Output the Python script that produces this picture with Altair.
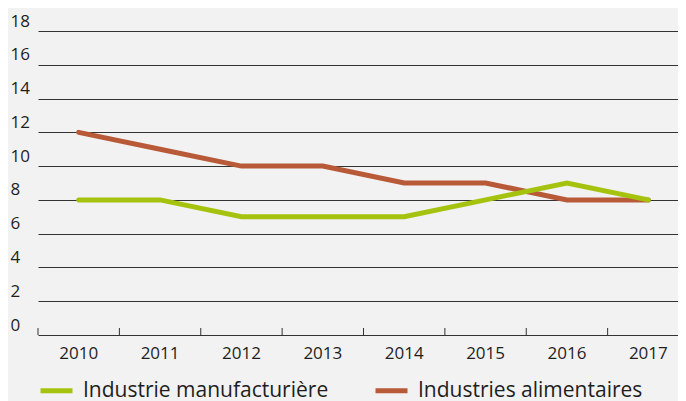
import altair as alt
import pandas as pd

years = ["2010", "2011", "2012", "2013", "2014", "2015", "2016", "2017"]
manuf = [8, 8, 7, 7, 7, 8, 9, 8]
alim = [12, 11, 10, 10, 9, 9, 8, 8]
series_names = ["Industrie manufacturière", "Industries alimentaires"]
series_colors = ["#A5C30E", "#B85A38"]
y_ticks = [0, 2, 4, 6, 8, 10, 12, 14, 16, 18]

df = pd.DataFrame(
    [{"year": y, "value": v, "serie": series_names[0]} for y, v in zip(years, manuf)]
    + [{"year": y, "value": v, "serie": series_names[1]} for y, v in zip(years, alim)]
)
ticks_df = pd.DataFrame({"year": years})

W, H = 668, 304
FONT = "Open Sans"

xscale = alt.Scale(domain=years, paddingInner=0, paddingOuter=0, range=[28, 679])
yscale = alt.Scale(domain=[0, 18], nice=False)
color = alt.Color(
    "serie:N",
    scale=alt.Scale(domain=series_names, range=series_colors),
    legend=alt.Legend(
        title=None, orient="none", legendX=28, legendY=341, direction="horizontal",
        symbolType="stroke", symbolSize=1024, symbolStrokeWidth=5,
        labelFontSize=21, labelFont=FONT, labelColor="#1e1e1e", labelLimit=0,
        columnPadding=36, labelOffset=8, padding=0,
    ),
)

x_enc = alt.X("year:O", scale=xscale, title=None,
              axis=alt.Axis(labelAngle=0, labelAlign="center", ticks=False, domain=False,
                            labelPadding=18, labelFontSize=17, labelFont=FONT,
                            labelColor="#1e1e1e"))
y_enc = alt.Y("value:Q", scale=yscale, title=None,
              axis=alt.Axis(values=y_ticks, grid=True, gridColor="#333333", gridWidth=1,
                            gridOpacity=1, domain=False, ticks=False, labelAlign="left",
                            labelBaseline="bottom", labelPadding=0, labelOffset=-1,
                            labelFontSize=17, labelFont=FONT, labelColor="#1e1e1e"))

red = alt.Chart(df).transform_filter(alt.datum.serie == series_names[1]).mark_line(
    strokeWidth=5, strokeCap="round").encode(x=x_enc, y=y_enc, color=color)
green = alt.Chart(df).transform_filter(alt.datum.serie == series_names[0]).mark_line(
    strokeWidth=5, strokeCap="round").encode(x=x_enc, y=y_enc, color=color)
tick_rules = alt.Chart(ticks_df).mark_rule(color="#333333", strokeWidth=1).encode(
    x=alt.X("year:O", scale=xscale, bandPosition=0),
    y=alt.value(H - 7), y2=alt.value(H))

chart = alt.layer(tick_rules, red, green).properties(
    width=W, height=H, padding={"left": 2, "top": 4, "right": 0, "bottom": 0},
    background="#f2f2f2",
).configure_view(stroke=None)

chart.save("out.html", embed_options={"renderer": "svg", "actions": False})
